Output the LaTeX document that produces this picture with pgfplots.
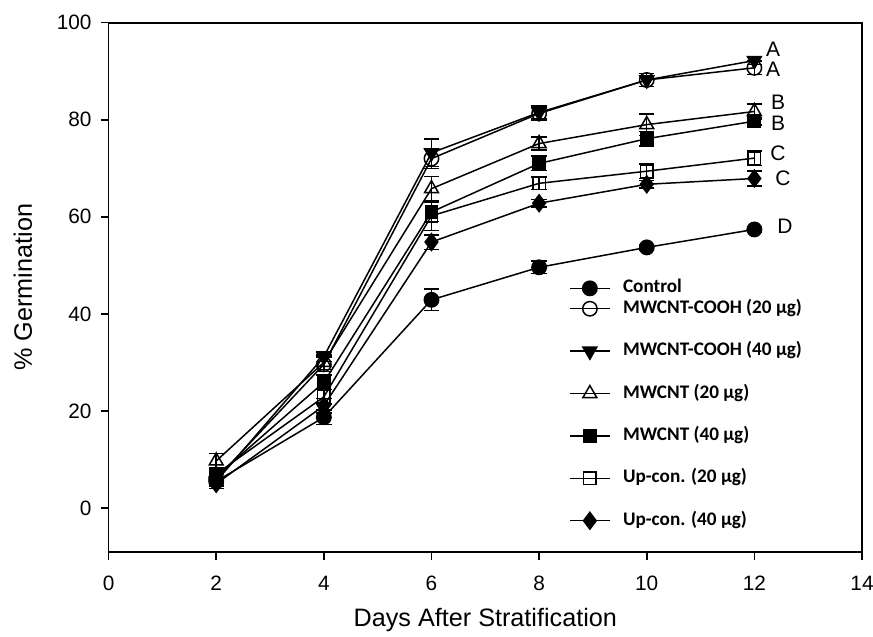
\documentclass[border=0pt]{standalone}
\usepackage{fontspec}
\setmainfont{Liberation Sans}
\newfontfamily\legfont{Carlito}
\usepackage{pgfplots}
\pgfplotsset{compat=1.18}

\pgfplotsset{
  mylegend/.style={
    legend style={anchor=north west, draw=none, fill=none,
        font=\legfont\bfseries\fontsize{9.6}{11}\selectfont,
        inner sep=0pt, row sep=11.7pt,
        nodes={inner sep=0pt, text height=7pt, text depth=2.5pt},
        /tikz/every odd column/.append style={column sep=6.2pt}},
    legend cell align=left,
    legend image code/.code={\draw[mark repeat=2, mark phase=2, ##1]
        plot coordinates {(0pt,0pt) (10pt,0pt) (20pt,0pt)};},
  },
  myframe/.style={
    scale only axis,
    width=376.7pt, height=264.5pt,
    xmin=0, xmax=14, ymin=-9, ymax=100,
  },
}

\begin{document}
\begin{tikzpicture}
\begin{axis}[
    myframe, mylegend,
    legend style={at={(axis cs:8.55,43.1)}},
    xtick={0,2,...,14}, ytick={0,20,...,100},
    tick pos=left, tick align=outside,
    major tick length=4pt,
    axis line style={line width=0.9pt},
    every tick/.style={black, line width=0.8pt},
    /pgf/number format/assume math mode=true,
    ticklabel style={font=\fontsize{10.4}{12}\selectfont},
    xticklabel style={yshift=-4.5pt},
    yticklabel style={xshift=-1pt},
    xlabel={Days After Stratification},
    ylabel={\% Germination},
    label style={font=\fontsize{12.6}{14}\selectfont},
    xlabel style={yshift=-1.8pt},
    ylabel style={yshift=5.5pt},
    every axis plot/.append style={black, line width=0.75pt, mark size=3.6pt,
        error bars/y dir=both, error bars/y explicit,
        error bars/error bar style={line width=0.75pt},
        error bars/error mark options={rotate=90, mark size=3.85pt, line width=0.75pt}},
]
% Control (its legend entry is set by the second axis)
\addplot[mark=*, mark options={fill=black}, forget plot] coordinates {
    (2,5.5) +- (0,1.0)
    (4,18.7) +- (0,1.5)
    (6,42.9) +- (0,2.2)
    (8,49.6) +- (0,1.3)
    (10,53.7) +- (0,0.6)
    (12,57.4) +- (0,0.6)
};
% MWCNT-COOH 20
\addplot[mark=o, mark options={fill=white}] coordinates {
    (2,6.0) +- (0,1.0)
    (4,29.6) +- (0,1.5)
    (6,72.0) +- (0,2.0)
    (8,81.3) +- (0,1.3)
    (10,88.2) +- (0,1.3)
    (12,90.7) +- (0,1.4)
};
\addlegendentry{MWCNT-COOH (20 µg)}
% MWCNT-COOH 40
\addplot[mark=triangle*, mark size=4pt, mark options={rotate=180, fill=black}] coordinates {
    (2,5.5) +- (0,1.0)
    (4,31.2) +- (0,1.0)
    (6,73.2) +- (0,2.8)
    (8,81.5) +- (0,1.3)
    (10,88.2) +- (0,1.3)
    (12,92.2) +- (0,0.8)
};
\addlegendentry{MWCNT-COOH (40 µg)}
% MWCNT 20
\addplot[mark=triangle, mark size=4pt, mark options={fill=white}] coordinates {
    (2,9.7) +- (0,1.5)
    (4,30.0) +- (0,1.5)
    (6,65.8) +- (0,2.5)
    (8,75.1) +- (0,1.3)
    (10,79.0) +- (0,2.2)
    (12,81.7) +- (0,1.5)
};
\addlegendentry{MWCNT (20 µg)}
% MWCNT 40
\addplot[mark=square*, mark size=3.1pt, mark options={fill=black}] coordinates {
    (2,6.5) +- (0,1.0)
    (4,25.9) +- (0,1.5)
    (6,61.0) +- (0,2.0)
    (8,71.0) +- (0,1.5)
    (10,76.1) +- (0,1.5)
    (12,79.7) +- (0,0.8)
};
\addlegendentry{MWCNT (40 µg)}
% Up-con. 20
\addplot[mark=square, mark size=3.1pt, mark options={fill=white}] coordinates {
    (2,7.0) +- (0,1.0)
    (4,22.9) +- (0,1.5)
    (6,60.2) +- (0,3.0)
    (8,66.9) +- (0,1.3)
    (10,69.4) +- (0,1.5)
    (12,72.1) +- (0,1.5)
};
\addlegendentry{Up-con. (20 µg)}
% Up-con. 40
\addplot[mark=diamond*, mark size=4.2pt, mark options={fill=black}] coordinates {
    (2,5.0) +- (0,1.0)
    (4,21.1) +- (0,1.5)
    (6,54.8) +- (0,1.5)
    (8,62.8) +- (0,0.8)
    (10,66.7) +- (0,0.8)
    (12,67.9) +- (0,1.5)
};
\addlegendentry{Up-con. (40 µg)}

\begin{scope}[every node/.style={font=\fontsize{10.5}{12}\selectfont, inner sep=0pt}]
\node at (axis cs:12.35,94.5) {A};
\node at (axis cs:12.35,90.4) {A};
\node at (axis cs:12.44,83.7) {B};
\node at (axis cs:12.44,79.3) {B};
\node at (axis cs:12.44,73.1) {C};
\node at (axis cs:12.53,67.9) {C};
\node at (axis cs:12.57,58.1) {D};
\end{scope}
\end{axis}

% second, hidden axis: only the tighter "Control" legend row
\begin{axis}[myframe, mylegend, hide axis,
    legend style={at={(axis cs:8.55,47.3)}}]
\addlegendimage{black, line width=0.75pt, mark=*, mark size=3.6pt, mark options={fill=black}}
\addlegendentry{Control}
\end{axis}

\pgfresetboundingbox
\path ([shift={(-54.3pt,-42.65pt)}]current axis.south west)
    rectangle ([shift={(5.5pt,11.35pt)}]current axis.north east);
\end{tikzpicture}
\end{document}
